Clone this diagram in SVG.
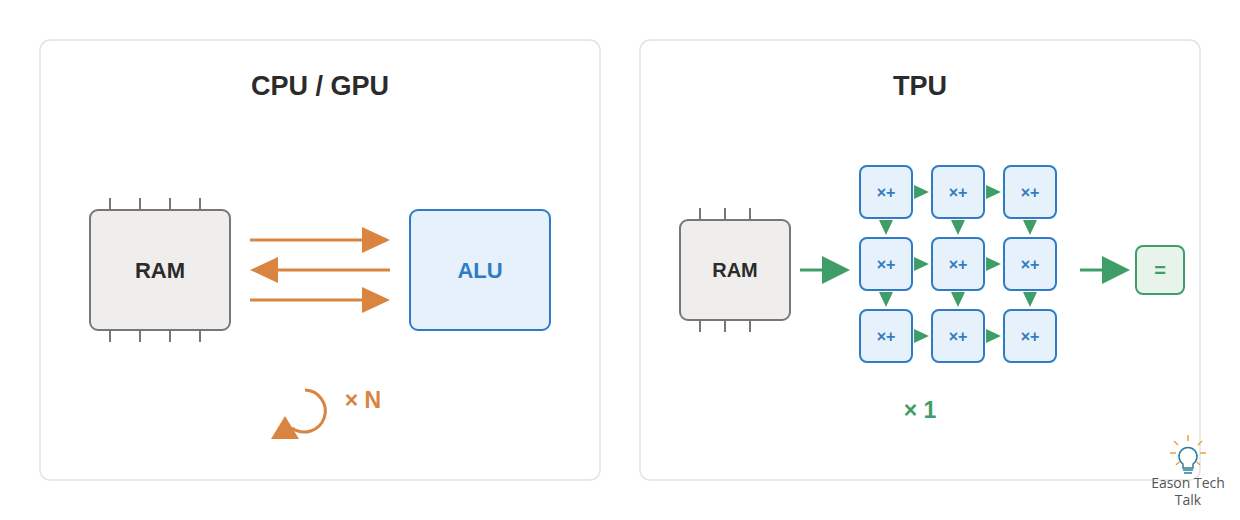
<svg xmlns="http://www.w3.org/2000/svg" width="1240" height="520" viewBox="0 0 1240 520">
<style>
.panel{fill:#fff;stroke:#e2e2e2;stroke-width:1.5}
.title{font-family:"Liberation Sans",Arial,sans-serif;font-weight:bold;font-size:27px;fill:#2b2b2b;text-anchor:middle}
.ram{fill:#efeeec;stroke:#777;stroke-width:2}
.pin{stroke:#777;stroke-width:2}
.lbl{font-family:"Liberation Sans",Arial,sans-serif;font-weight:bold;text-anchor:middle;dominant-baseline:central}
.cell{fill:#e6f1fb;stroke:#2f7cc4;stroke-width:2}
.cellt{font-size:16px;fill:#2f7cc4}
.o{stroke:#d9843f;stroke-width:3;fill:none}
.g{stroke:#3f9e68;stroke-width:3;fill:none}
</style>
<rect class="panel" x="40" y="40" width="560" height="440" rx="10"/>
<rect class="panel" x="640" y="40" width="560" height="440" rx="10"/>
<text class="title" x="320" y="95">CPU / GPU</text>
<text class="title" x="920" y="95">TPU</text>
<g id="ram1">
<g class="pin"><path d="M110,198v12M140,198v12M170,198v12M200,198v12M110,330v12M140,330v12M170,330v12M200,330v12"/></g>
<rect class="ram" x="90" y="210" width="140" height="120" rx="8"/>
<text class="lbl" x="160" y="270" font-size="22" fill="#2b2b2b">RAM</text>
</g>
<g id="alu">
<rect x="410" y="210" width="140" height="120" rx="8" fill="#e6f1fb" stroke="#2f7cc4" stroke-width="2"/>
<text class="lbl" x="480" y="270" font-size="22" fill="#2f7cc4">ALU</text>
</g>
<g id="loop">
<path class="o" d="M305,390A21,21 0 1 1 292,428"/>
<path d="M271,439L285,416L299,439z" fill="#d9843f"/>
<text class="lbl" x="363" y="400" font-size="23" fill="#d9843f">× N</text>
</g>
<g id="ram2">
<g class="pin"><path d="M700,208v12M725,208v12M750,208v12M700,320v12M725,320v12M750,320v12"/></g>
<rect class="ram" x="680" y="220" width="110" height="100" rx="8"/>
<text class="lbl" x="735" y="270" font-size="20" fill="#2b2b2b">RAM</text>
</g>
<g id="cells">
<g id="c11"><rect class="cell" x="860" y="166" width="52" height="52" rx="7"/><text class="lbl cellt" x="886" y="192">×+</text></g>
<g id="c12"><rect class="cell" x="932" y="166" width="52" height="52" rx="7"/><text class="lbl cellt" x="958" y="192">×+</text></g>
<g id="c13"><rect class="cell" x="1004" y="166" width="52" height="52" rx="7"/><text class="lbl cellt" x="1030" y="192">×+</text></g>
<g id="c21"><rect class="cell" x="860" y="238" width="52" height="52" rx="7"/><text class="lbl cellt" x="886" y="264">×+</text></g>
<g id="c22"><rect class="cell" x="932" y="238" width="52" height="52" rx="7"/><text class="lbl cellt" x="958" y="264">×+</text></g>
<g id="c23"><rect class="cell" x="1004" y="238" width="52" height="52" rx="7"/><text class="lbl cellt" x="1030" y="264">×+</text></g>
<g id="c31"><rect class="cell" x="860" y="310" width="52" height="52" rx="7"/><text class="lbl cellt" x="886" y="336">×+</text></g>
<g id="c32"><rect class="cell" x="932" y="310" width="52" height="52" rx="7"/><text class="lbl cellt" x="958" y="336">×+</text></g>
<g id="c33"><rect class="cell" x="1004" y="310" width="52" height="52" rx="7"/><text class="lbl cellt" x="1030" y="336">×+</text></g>
</g>
<g id="eq">
<rect x="1136" y="246" width="48" height="48" rx="7" fill="#e8f3ec" stroke="#3f9e68" stroke-width="2"/>
<text class="lbl" x="1160" y="270" font-size="20" fill="#3f9e68">=</text>
</g>
<text class="lbl" x="920" y="410" font-size="23" fill="#3f9e68">× 1</text>
<g id="connectors">
<path class="o" d="M250,240H370"/><path d="M362,227L390,240L362,253z" fill="#d9843f"/>
<path class="o" d="M390,270H275"/><path d="M278,257L250,270L278,283z" fill="#d9843f"/>
<path class="o" d="M250,300H370"/><path d="M362,287L390,300L362,313z" fill="#d9843f"/>
<path class="g" d="M800,270H825"/><path d="M822,256L850,270L822,284z" fill="#3f9e68"/>
<path class="g" d="M1080,270H1105"/><path d="M1102,256L1130,270L1102,284z" fill="#3f9e68"/>
<g fill="#3f9e68">
<path d="M914,185L929,192L914,199z"/><path d="M986,185L1001,192L986,199z"/>
<path d="M914,257L929,264L914,271z"/><path d="M986,257L1001,264L986,271z"/>
<path d="M914,329L929,336L914,343z"/><path d="M986,329L1001,336L986,343z"/>
<path d="M879,220L893,220L886,235z"/><path d="M951,220L965,220L958,235z"/><path d="M1023,220L1037,220L1030,235z"/>
<path d="M879,292L893,292L886,307z"/><path d="M951,292L965,292L958,307z"/><path d="M1023,292L1037,292L1030,307z"/>
</g>
</g>
<g id="logo">
<g stroke="#f0a040" stroke-width="1.5"><path d="M1188,435v6M1174,441l4,4M1202,441l-4,4M1170,453h6M1200,453h6M1176,465l3,-3M1200,465l-3,-3"/></g>
<path d="M1183,468v-4a9,9 0 1 1 10,0v4z" fill="#fff" stroke="#2a7f9a" stroke-width="1.5"/>
<path d="M1183,470h10M1184,473h8" stroke="#2a7f9a" stroke-width="1.5"/>
<text x="1188" y="488" font-family="'Open Sans','Liberation Sans',sans-serif" font-size="14" fill="#555" text-anchor="middle">Eason Tech</text>
<text x="1188" y="505" font-family="'Open Sans','Liberation Sans',sans-serif" font-size="14" fill="#555" text-anchor="middle">Talk</text>
</g>
</svg>
